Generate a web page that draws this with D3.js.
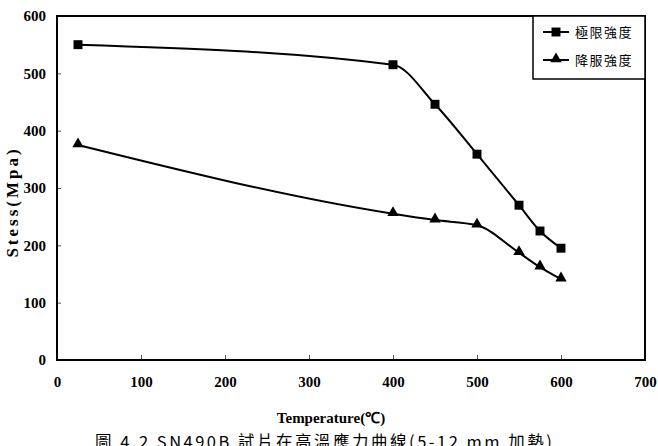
<!DOCTYPE html>
<html>
<head>
<meta charset="utf-8">
<script src="https://cdn.jsdelivr.net/npm/d3@7"></script>
<style>
  body { margin: 0; background: #fff; }
  svg { display: block; }
</style>
</head>
<body>
<div id="chart"></div>
<script>
const temps = [25, 400, 450, 500, 550, 575, 600]
const ultimate = [550, 515, 446, 359, 270, 225, 195]   // 極限強度
const yieldStr = [375, 255, 244, 235, 187, 162, 141]   // 降服強度
const seriesNames = ['極限強度', '降服強度']
const xTicks = [0, 100, 200, 300, 400, 500, 600, 700]
const yTicks = [0, 100, 200, 300, 400, 500, 600]

const width = 658
const height = 446
const plotL = 57, plotR = 645, plotT = 16, plotB = 360

const svg = d3.select('#chart').append('svg')
  .attr('width', width)
  .attr('height', height)

const x = d3.scaleLinear().domain([0, 700]).range([plotL, plotR])
const y = d3.scaleLinear().domain([0, 600]).range([plotB, plotT])

const serif = '"Liberation Serif", "Times New Roman", serif'

// inner ticks
const xAxis = svg.append('g')
  .attr('transform', 'translate(0,' + plotB + ')')
  .call(d3.axisBottom(x).tickValues(xTicks).tickSizeInner(-5).tickSizeOuter(0).tickPadding(16))
xAxis.select('.domain').remove()
xAxis.selectAll('line').attr('stroke', '#555')
xAxis.selectAll('text')
  .attr('font-family', serif).attr('font-weight', 'bold').attr('font-size', 15).attr('fill', '#000')

const yAxis = svg.append('g')
  .attr('transform', 'translate(' + plotL + ',0)')
  .call(d3.axisLeft(y).tickValues(yTicks).tickSizeInner(-4).tickSizeOuter(0).tickPadding(11))
yAxis.select('.domain').remove()
yAxis.selectAll('line').attr('stroke', '#555')
yAxis.selectAll('text')
  .attr('font-family', serif).attr('font-weight', 'bold').attr('font-size', 15).attr('fill', '#000')

// plot frame
svg.append('rect')
  .attr('x', plotL).attr('y', plotT)
  .attr('width', plotR - plotL).attr('height', plotB - plotT)
  .attr('fill', 'none').attr('stroke', '#000').attr('stroke-width', 2)

const line = d3.line()
  .x(d => x(d[0]))
  .y(d => y(d[1]))
  .curve(d3.curveMonotoneX)

const data1 = temps.map((t, i) => [t, ultimate[i]])
const data2 = temps.map((t, i) => [t, yieldStr[i]])

svg.append('path').datum(data1).attr('d', line)
  .attr('fill', 'none').attr('stroke', '#000').attr('stroke-width', 2)
svg.append('path').datum(data2).attr('d', line)
  .attr('fill', 'none').attr('stroke', '#000').attr('stroke-width', 2)

const sq = d3.symbol().type(d3.symbolSquare).size(80)
const tri = d3.symbol().type(d3.symbolTriangle).size(56)

svg.selectAll('.sq').data(data1).enter().append('path')
  .attr('class', 'sq')
  .attr('d', sq)
  .attr('transform', d => 'translate(' + x(d[0]) + ',' + y(d[1]) + ')')
  .attr('fill', '#000')

svg.selectAll('.tri').data(data2).enter().append('path')
  .attr('class', 'tri')
  .attr('d', tri)
  .attr('transform', d => 'translate(' + x(d[0]) + ',' + (y(d[1]) - 1) + ')')
  .attr('fill', '#000')

// axis titles
svg.append('text')
  .attr('x', 331).attr('y', 423)
  .attr('text-anchor', 'middle')
  .attr('font-family', serif).attr('font-weight', 'bold').attr('font-size', 15)
  .text('Temperature(℃)')

svg.append('text')
  .attr('transform', 'translate(18,202) rotate(-90)')
  .attr('text-anchor', 'middle')
  .attr('font-family', serif).attr('font-weight', 'bold').attr('font-size', 17)
  .attr('letter-spacing', 3)
  .text('Stess(Mpa)')

// legend
const lg = svg.append('g')
lg.append('rect')
  .attr('x', 533).attr('y', 16).attr('width', 112).attr('height', 63)
  .attr('fill', '#fff').attr('stroke', '#000').attr('stroke-width', 1.5)

const cjk = '"Noto Sans CJK TC", sans-serif'
seriesNames.forEach((name, i) => {
  const ly = 32 + i * 28
  lg.append('line')
    .attr('x1', 543).attr('x2', 569).attr('y1', ly).attr('y2', ly)
    .attr('stroke', '#000').attr('stroke-width', 2)
  lg.append('path')
    .attr('d', i === 0 ? sq : tri)
    .attr('transform', 'translate(556,' + (i === 0 ? ly : ly - 1) + ')')
    .attr('fill', '#000')
  lg.append('text')
    .attr('x', 575).attr('y', ly + 5)
    .attr('font-family', cjk).attr('font-size', 13)
    .attr('letter-spacing', 1.5)
    .text(name)
})

// caption (cut at the bottom edge, as in the scan)
svg.append('text')
  .attr('x', 95).attr('y', 448)
  .attr('font-family', cjk).attr('font-size', 16.5)
  .attr('letter-spacing', 2.5)
  .text('圖 4.2 SN490B 試片在高溫應力曲線(5-12 mm 加熱)')
</script>
</body>
</html>
